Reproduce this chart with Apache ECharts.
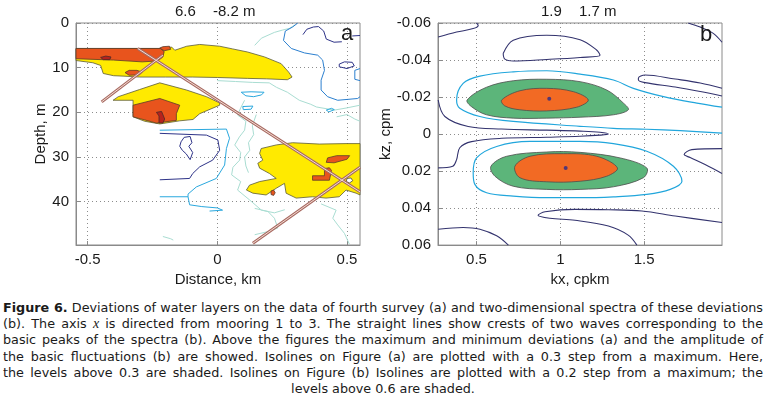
<!DOCTYPE html>
<html>
<head>
<meta charset="utf-8">
<title>Figure 6</title>
<script src="https://cdn.jsdelivr.net/npm/echarts@6/dist/echarts.min.js"></script>
<style>
html, body { margin: 0; padding: 0; background: #fff; }
#chart { position: absolute; left: 0; top: 0; width: 767px; height: 292px; }
#caption {
	position: absolute; left: 3px; top: 300px; width: 760px;
	font-family: "DejaVu Sans", sans-serif;
	font-size: 12.75px; line-height: 16.2px; color: #1a1a1a;
}
#caption div { text-align: justify; text-align-last: justify; white-space: nowrap; }
#caption div.last { text-align: center; text-align-last: center; }
#caption i { font-family: "Liberation Serif", serif; font-style: italic; font-size: 14px; }
</style>
</head>
<body>
<div id="chart"></div>
<div id="caption">
	<div><b>Figure 6.</b> Deviations of water layers on the data of fourth survey (a) and two-dimensional spectra of these deviations</div>
	<div>(b). The axis <i>x</i> is directed from mooring 1 to 3. The straight lines show crests of two waves corresponding to the</div>
	<div>basic peaks of the spectra (b). Above the figures the maximum and minimum deviations (a) and the amplitude of</div>
	<div>the basic fluctuations (b) are showed. Isolines on Figure (a) are plotted with a 0.3 step from a maximum. Here,</div>
	<div>the levels above 0.3 are shaded. Isolines on Figure (b) Isolines are plotted with a 0.2 step from a maximum; the</div>
	<div class="last">levels above 0.6 are shaded.</div>
</div>
<script>
// ---- panel (a): distance (km) / depth (m) ----
const ticksDistance = [-0.5, 0, 0.5];
const ticksDepth = [0, 10, 20, 30, 40];
const extremesA = ['6.6', '-8.2 m'];

// shaded levels (a)
const yellowA = [[-0.545,5.7],[-0.22,5.7],[-0.21,5.5],[-0.176,5.4],[-0.164,6.1],[-0.118,5.2],[-0.068,4.8],[0.009,5.2],[0.059,5.8],[0.117,6.5],[0.182,7.6],[0.246,9.1],[0.275,11.0],[0.288,12.1],[0.27,12.7],[0.19,12.5],[0.117,12.4],[0.0,12.2],[-0.095,12.1],[-0.2,12.1],[-0.3,12.1],[-0.36,11.9],[-0.40,11.8],[-0.44,11.3],[-0.45,9.5],[-0.48,8.9],[-0.545,8.4]];
const yellowB = [[-0.222,13.4],[-0.119,15.0],[-0.042,16.5],[0.009,17.9],[0.009,18.4],[-0.068,20.3],[-0.094,21.6],[-0.145,21.9],[-0.222,22.6],[-0.28,22.0],[-0.325,21.0],[-0.325,17.3],[-0.402,17.3],[-0.382,16.5],[-0.30,14.9]];
const yellowC = [[0.169,28.1],[0.227,27.3],[0.29,26.8],[0.393,27.1],[0.496,27.0],[0.55,27.0],[0.55,38.5],[0.535,38.1],[0.496,37.4],[0.47,38.9],[0.419,39.2],[0.367,38.9],[0.304,39.2],[0.265,38.1],[0.259,35.9],[0.227,37.0],[0.188,38.5],[0.137,38.1],[0.112,37.4],[0.124,36.3],[0.163,35.5],[0.227,34.8],[0.201,33.7],[0.163,32.5],[0.156,31.4],[0.175,30.7],[0.163,29.2]];
const holeC = [[0.50,34.8],[0.515,34.7],[0.522,35.3],[0.51,35.8],[0.497,35.5]];
const redA = [[-0.545,5.7],[-0.22,5.7],[-0.205,6.4],[-0.21,7.6],[-0.23,8.5],[-0.29,8.7],[-0.40,8.3],[-0.545,8.0]];
const redA2 = [[-0.222,5.6],[-0.21,5.3],[-0.185,5.2],[-0.18,5.9],[-0.205,6.2]];
const redA3 = [[-0.356,11.1],[-0.34,10.6],[-0.31,10.6],[-0.29,11.0],[-0.30,11.6],[-0.34,11.7]];
const redB = [[-0.325,18.4],[-0.222,16.9],[-0.145,18.4],[-0.158,20.3],[-0.158,21.8],[-0.235,22.4],[-0.325,21.0]];
const redC1 = [[0.42,31.2],[0.425,30.2],[0.46,29.7],[0.51,29.7],[0.50,30.5],[0.45,31.3]];
const redC2 = [[0.413,32.6],[0.432,32.4],[0.44,33.0],[0.432,35.2],[0.367,35.2],[0.367,34.2],[0.413,34.2]];
const redC3 = [[0.207,37.6],[0.217,37.4],[0.223,38.0],[0.217,38.6],[0.207,38.4]];
const darkA = [[-0.45,7.7],[-0.43,7.4],[-0.41,7.6],[-0.415,8.2],[-0.44,8.2]];
const darkB = [[-0.235,20.0],[-0.215,19.8],[-0.203,21.5],[-0.21,22.4],[-0.225,22.4],[-0.225,20.8]];

// isolines (a)
const navyA = [
	[[-0.222,24.7],[-0.042,25.1],[0.002,26.2],[0.009,28.5],[-0.018,30.7],[-0.068,32.2],[-0.095,33.7],[-0.107,34.8],[-0.222,35.1]],
	[[-0.14,26.6],[-0.128,25.6],[-0.105,25.4],[-0.098,26.8],[-0.11,27.6],[-0.095,29.0],[-0.105,30.6],[-0.12,29.3],[-0.135,28.5],[-0.145,27.6],[-0.14,26.6]],
	[[0.33,2.6],[0.345,1.4],[0.37,0.9],[0.39,0.8],[0.41,1.8],[0.42,3.6],[0.45,4.3],[0.48,4.2]],
	[[0.52,2.9],[0.55,2.8]],
	[[0.47,9.2],[0.49,8.7],[0.52,8.8],[0.528,9.6],[0.50,10.2],[0.47,9.8],[0.47,9.2]],
	[[0.367,32.6],[0.413,32.6]]
];
const blueA = [
	[[0.31,0.0],[0.29,0.9],[0.262,1.8],[0.255,3.9],[0.285,5.7],[0.336,6.7],[0.387,7.2],[0.406,8.3],[0.413,10.6],[0.40,12.8],[0.40,15.0],[0.425,16.5],[0.464,17.3],[0.541,16.9],[0.55,16.5]],
	[[0.55,10.2],[0.53,10.6],[0.53,12.6],[0.55,12.9]]
];
const cyanA = [
	[[-0.222,24.0],[0.035,23.75],[0.047,25.8],[0.035,28.1],[0.028,31.8],[-0.004,34.8],[-0.081,36.7],[-0.113,38.3],[-0.113,38.9],[-0.222,38.9]],
	[[-0.113,38.9],[-0.107,40.7],[-0.06,41.1],[0.0,41.4],[0.02,41.9],[-0.03,42.1]],
	[[0.092,15.5],[0.13,15.4],[0.18,15.5],[0.17,16.1],[0.14,16.5],[0.11,16.3],[0.092,15.5]],
	[[0.098,18.7],[0.137,18.6],[0.13,19.3],[0.10,19.4],[0.098,18.7]],
	[[0.42,19.5],[0.44,19.1],[0.451,19.4],[0.43,19.9],[0.42,19.5]]
];
const paleA = [
	[[0.144,5.0],[0.17,3.4],[0.22,2.1],[0.25,1.6],[0.278,1.2],[0.30,0.4]],
	[[0.0,12.9],[0.07,13.1],[0.136,13.3],[0.2,13.4],[0.228,14.4],[0.27,15.5],[0.316,17.3],[0.36,18.2],[0.382,18.8],[0.451,19.5],[0.5,19.0],[0.55,18.4]],
	[[0.105,17.3],[0.09,19.0],[0.078,20.6],[0.11,22.0],[0.105,24.0],[0.085,25.5],[0.067,27.3],[0.09,29.0],[0.086,30.7],[0.06,32.3],[0.055,34.0],[0.09,35.5],[0.078,37.4],[0.124,39.6],[0.17,41.9],[0.22,42.5],[0.26,41.8]],
	[[0.15,20.5],[0.135,23.0],[0.14,25.0],[0.12,26.8],[0.125,28.5],[0.105,30.0],[0.11,32.0],[0.12,33.5]],
	[[0.144,41.5],[0.195,42.2],[0.22,43.7],[0.233,45.9],[0.195,46.7],[0.144,47.4]],
	[[0.40,40.5],[0.458,41.9],[0.445,43.7],[0.464,45.2],[0.49,47.1],[0.509,49.5]],
	[[-0.21,47.8],[-0.18,48.3],[-0.17,48.6]],
	[[0.46,21.0],[0.5,20.5],[0.53,21.5],[0.55,22.0]]
];
// wave crests
const crestLines = [
	[[-0.307,5.7],[0.55,37.8]],
	[[-0.446,17.65],[-0.21,7.2]],
	[[0.137,49.3],[0.55,32.3]]
];

// ---- panel (b): kx (cpkm) / kz (cpm) ----
const ticksKx = [0.5, 1, 1.5];
const ticksKz = [-0.06, -0.04, -0.02, 0, 0.02, 0.04, 0.06];
const amplitudesB = ['1.9', '1.7 m'];

const greenUp = [[0.444,-0.0184],[0.56,-0.0253],[0.719,-0.0288],[0.919,-0.0296],[1.118,-0.0283],[1.277,-0.0238],[1.377,-0.0167],[1.406,-0.0131],[1.317,-0.0104],[1.118,-0.0091],[0.919,-0.0086],[0.719,-0.0086],[0.56,-0.0104],[0.47,-0.0148]];
const orangeUp = [[0.65,-0.0184],[0.759,-0.0234],[0.919,-0.0247],[1.078,-0.0229],[1.167,-0.0184],[1.098,-0.0145],[0.919,-0.0125],[0.759,-0.0131],[0.669,-0.0152]];
const greenDn = [[0.586,0.0174],[0.68,0.012],[0.919,0.0097],[1.118,0.0099],[1.357,0.0129],[1.516,0.0183],[1.496,0.0236],[1.317,0.0285],[1.118,0.0299],[0.919,0.0299],[0.719,0.0282],[0.61,0.0228]];
const orangeDn = [[0.729,0.0174],[0.819,0.012],[1.018,0.0106],[1.218,0.012],[1.341,0.0183],[1.277,0.0228],[1.118,0.0255],[0.919,0.0258],[0.759,0.0236]];
const peaksB = [[0.934,-0.0191],[1.032,0.0183]];

const cyanB = [
	[[1.965,-0.0145],[1.815,-0.0167],[1.616,-0.0202],[1.436,-0.0247],[1.317,-0.0292],[1.118,-0.0324],[0.919,-0.0342],[0.719,-0.0336],[0.52,-0.0313],[0.42,-0.0274],[0.381,-0.0184],[0.40,-0.014],[0.52,-0.0095],[0.719,-0.0068],[1.118,-0.0042],[1.317,-0.0031],[1.516,-0.0026],[1.716,-0.0018],[1.965,-0.0005]],
	[[0.48,0.021],[0.50,0.0129],[0.62,0.0067],[0.819,0.004],[1.118,0.004],[1.317,0.0052],[1.516,0.0093],[1.675,0.0174],[1.726,0.0255],[1.656,0.0299],[1.516,0.0326],[1.317,0.0339],[1.118,0.0344],[0.919,0.0344],[0.719,0.0335],[0.56,0.0317],[0.49,0.0272],[0.48,0.021]]
];
const navyB = [
	[[0.271,-0.0524],[0.381,-0.0551],[0.48,-0.057],[0.51,-0.0587],[0.50,-0.06]],
	[[0.659,-0.0435],[0.719,-0.0507],[0.919,-0.0534],[1.118,-0.051],[1.218,-0.0453],[1.237,-0.0426],[1.118,-0.0414],[0.919,-0.0403],[0.719,-0.0395],[0.669,-0.0405],[0.659,-0.0435]],
	[[1.763,-0.06],[1.835,-0.0578],[1.913,-0.0544],[1.965,-0.0496]],
	[[1.965,-0.0247],[1.835,-0.0276],[1.686,-0.0297],[1.506,-0.0319],[1.466,-0.0302],[1.466,-0.0292],[1.506,-0.0278],[1.686,-0.0254],[1.835,-0.023],[1.965,-0.0206]],
	[[0.271,-0.0184],[0.311,-0.0095],[0.45,-0.0041],[0.65,-0.0027],[0.919,-0.0021],[1.118,-0.0016],[1.237,-0.001],[1.287,0.0],[1.237,0.0006],[1.118,0.0012],[0.919,0.0017],[0.65,0.0023],[0.47,0.0041],[0.40,0.0074],[0.381,0.0138],[0.358,0.0174],[0.271,0.0183]],
	[[1.965,0.0079],[1.785,0.0084],[1.739,0.0111],[1.775,0.0127],[1.864,0.0165],[1.965,0.0213]],
	[[1.965,0.0478],[1.686,0.0443],[1.487,0.0416],[1.287,0.0409],[1.088,0.0407],[0.909,0.042],[0.867,0.0439],[0.938,0.0455],[1.088,0.0466],[1.287,0.0497],[1.405,0.0546],[1.457,0.06]],
	[[0.271,0.0514],[0.42,0.0505],[0.52,0.0514],[0.62,0.055],[0.69,0.06]]
];

const FONT = 'Liberation Sans, Arial, sans-serif';

function polySeries(ai, polys, fill, stroke, smooth, z) {
	return {
		type: 'custom',
		xAxisIndex: ai,
		yAxisIndex: ai,
		z: z,
		silent: true,
		data: polys.map((p, i) => [p[0][0], p[0][1], i]),
		renderItem: function (params, api) {
			const pts = polys[api.value(2)].map(pt => api.coord(pt));
			return {
				type: 'polygon',
				shape: { points: pts, smooth: smooth },
				style: { fill: fill, stroke: stroke, lineWidth: 0.8 }
			};
		}
	};
}

function lineSeries(ai, pts, color, width, smooth, z) {
	return {
		type: 'line',
		xAxisIndex: ai,
		yAxisIndex: ai,
		data: pts,
		symbol: 'none',
		smooth: smooth,
		silent: true,
		z: z,
		lineStyle: { color: color, width: width }
	};
}

function valueAxis(gi, min, max, ticks, extra) {
	return Object.assign({
		type: 'value',
		gridIndex: gi,
		min: min,
		max: max,
		axisLine: { show: true, onZero: false, lineStyle: { color: '#8a8a8a' } },
		axisTick: { show: true, inside: true, length: 4, customValues: ticks, lineStyle: { color: '#8a8a8a' } },
		axisLabel: { customValues: ticks, color: '#1a1a1a', fontFamily: FONT, fontSize: 15, margin: 7 },
		splitLine: { show: true, lineStyle: { color: '#8c8c8c', type: [1, 3], width: 1 } },
		nameLocation: 'middle',
		nameTextStyle: { color: '#1a1a1a', fontFamily: FONT, fontSize: 15 }
	}, extra);
}

const series = [];
// panel a: shaded areas
series.push(polySeries(0, [yellowA, yellowB, yellowC], '#ffea00', '#5b5a3a', 0, 2));
series.push(polySeries(0, [holeC], '#ffffff', '#444', 0, 3));
series.push(polySeries(0, [redA, redA2, redA3, redB, redC1, redC2, redC3], '#e8541d', '#5b3a2a', 0, 3));
series.push(polySeries(0, [darkA, darkB], '#b8221c', '#4a2a2a', 0, 4));
paleA.forEach(p => series.push(lineSeries(0, p, '#a9ddd2', 1, false, 1)));
cyanA.forEach(p => series.push(lineSeries(0, p, '#2aa8de', 1, false, 1)));
blueA.forEach(p => series.push(lineSeries(0, p, '#2b7fcf', 1, false, 1)));
navyA.forEach(p => series.push(lineSeries(0, p, '#2e3388', 1, false, 1)));
crestLines.forEach(p => {
	series.push(lineSeries(0, p, '#a86a62', 3, false, 5));
	series.push(lineSeries(0, p, '#f3ddd4', 1, false, 6));
});
// panel b
series.push(polySeries(1, [greenUp, greenDn], '#5cb57a', '#4d4d4d', 0.35, 2));
series.push(polySeries(1, [orangeUp, orangeDn], '#f26a24', '#4d4d4d', 0.35, 3));
cyanB.forEach(p => series.push(lineSeries(1, p, '#21a6dc', 1.2, 0.35, 1)));
navyB.forEach(p => series.push(lineSeries(1, p, '#33336e', 1.1, 0.35, 1)));
series.push({
	type: 'scatter', xAxisIndex: 1, yAxisIndex: 1, data: peaksB,
	symbolSize: 4, itemStyle: { color: '#2b2a8a' }, silent: true, z: 5
});

const option = {
	animation: false,
	backgroundColor: '#fff',
	grid: [
		{ left: 76, top: 23, width: 284, height: 222, show: true, borderColor: '#8a8a8a', borderWidth: 1 },
		{ left: 438, top: 23, width: 284, height: 223, show: true, borderColor: '#8a8a8a', borderWidth: 1 }
	],
	xAxis: [
		valueAxis(0, -0.545, 0.55, ticksDistance, { name: 'Distance, km', nameGap: 24 }),
		valueAxis(1, 0.27, 1.965, ticksKx, { name: 'kx, cpkm', nameGap: 21 })
	],
	yAxis: [
		valueAxis(0, 0, 49.7, ticksDepth, { inverse: true, name: 'Depth, m', nameGap: 26 }),
		valueAxis(1, -0.06, 0.06, ticksKz, { inverse: true, name: 'kz, cpm', nameGap: 42 })
	],
	graphic: [
		{ type: 'text', x: 175, y: 12, style: { text: extremesA[0], font: '15px ' + FONT, fill: '#1a1a1a', verticalAlign: 'middle' } },
		{ type: 'text', x: 213, y: 12, style: { text: extremesA[1], font: '15px ' + FONT, fill: '#1a1a1a', verticalAlign: 'middle' } },
		{ type: 'text', x: 541, y: 12, style: { text: amplitudesB[0], font: '15px ' + FONT, fill: '#1a1a1a', verticalAlign: 'middle' } },
		{ type: 'text', x: 579, y: 12, style: { text: amplitudesB[1], font: '15px ' + FONT, fill: '#1a1a1a', verticalAlign: 'middle' } },
		{ type: 'text', x: 341, y: 34, z: 10, style: { text: 'a', font: '22px ' + FONT, fill: '#1a1a1a', verticalAlign: 'middle' } },
		{ type: 'text', x: 700, y: 35, z: 10, style: { text: 'b', font: '22px ' + FONT, fill: '#1a1a1a', verticalAlign: 'middle' } }
	],
	series: series
};

const myChart = echarts.init(document.getElementById('chart'));
myChart.setOption(option);
</script>
</body>
</html>
